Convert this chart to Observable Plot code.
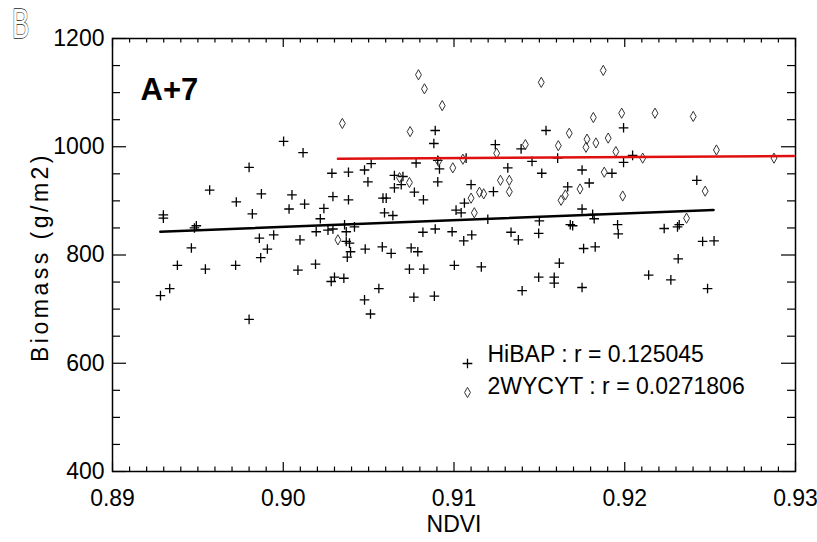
<!DOCTYPE html>
<html><head><meta charset="utf-8">
<script src="https://cdn.jsdelivr.net/npm/d3@7"></script>
<script src="https://cdn.jsdelivr.net/npm/@observablehq/plot@0.6"></script>
<style>
html,body{margin:0;padding:0;background:#fff;}
#wrap{position:relative;width:817px;height:542px;overflow:hidden;}
</style></head><body><div id="wrap"></div>
<script>
const hibapNdvi = [0.90002,0.90116,0.89800,0.90285,0.89569,0.89872,0.90051,0.90291,0.89725,0.90125,
0.90034,0.90238,0.89819,0.90217,0.89298,0.89298,0.89491,0.89480,0.89860,0.89944,
0.90098,0.90193,0.90262,0.90291,0.89462,0.89907,0.89868,0.89380,0.89544,0.89721,
0.90086,0.90189,0.89335,0.89281,0.89800,0.90281,0.90300,0.90890,0.90882,0.91242,
0.91539,0.91393,0.90905,0.90778,0.91071,0.91457,0.91607,0.90515,0.90476,0.90382,
0.90915,0.91315,0.91514,0.90651,0.90701,0.90496,0.90905,0.90651,0.90691,0.90768,
0.91100,0.91231,0.91666,0.90584,0.90603,0.90382,0.90821,0.91061,0.91012,0.91042,
0.90593,0.90642,0.91198,0.91500,0.90359,0.90417,0.90369,0.90369,0.90388,0.90394,
0.90375,0.90818,0.90890,0.90989,0.91057,0.91104,0.91334,0.91377,0.91496,0.90480,
0.90580,0.90632,0.90749,0.90788,0.90739,0.90823,0.91002,0.91160,0.91617,0.91496,
0.91587,0.91587,0.91399,0.90355,0.90560,0.90476,0.90511,0.90765,0.90885,0.91681,
0.91993,0.92046,0.91993,0.91750,0.91925,0.91792,0.92422,0.91750,0.91812,0.91821,
0.91695,0.91958,0.92231,0.92319,0.92309,0.91962,0.91759,0.91827,0.92456,0.92523,
0.92313,0.92140,0.92270,0.91750,0.92485];
const hibapBiomass = [1010,989,962,951,920,913,911,908,898,894,
885,886,876,867,874,868,854,850,831,837,
828,843,846,848,813,811,795,781,774,781,
772,783,738,725,681,751,759,1030,1006,1004,
1030,996,975,970,979,973,979,969,957,953,
959,961,951,947,945,935,935,924,930,916,
930,917,926,905,905,902,902,896,883,878,
878,873,866,863,856,852,843,825,822,806,
796,842,848,843,826,837,842,828,840,811,
815,803,813,806,774,774,781,778,785,759,
759,748,734,757,738,717,691,722,724,856,
1035,984,971,957,951,933,938,885,875,867,
854,856,849,856,852,839,812,815,825,826,
793,763,754,740,738];
const cytNdvi = [0.90792,0.90827,0.90931,0.90346,0.90743,0.91511,0.91675,0.91418,0.91611,0.91250,
0.91052,0.90909,0.90993,0.90681,0.90739,0.91272,0.91324,0.91324,0.91149,0.91174,
0.91100,0.91627,0.91652,0.91119,0.91874,0.91816,0.91982,0.92177,0.92401,0.91779,
0.91903,0.91773,0.91831,0.91948,0.92105,0.92537,0.92874,0.91880,0.91738,0.91988,
0.92471,0.92362,0.90320];
const cytBiomass = [1133,1107,1076,1043,1028,1119,1025,1004,1002,988,
977,973,961,943,934,938,938,917,916,913,
905,901,911,878,1141,1054,1062,1062,1056,1014,
1016,999,1007,991,979,994,979,953,922,909,
918,868,828];
const hibapFitNdvi = [0.8928, 0.9252];
const hibapFitBiomass = [843, 883];
const cytFitNdvi = [0.9032, 0.9299];
const cytFitBiomass = [978, 983];
const xTicks = [0.89, 0.90, 0.91, 0.92, 0.93];
const yTicks = [400, 600, 800, 1000, 1200];
const xLabel = "NDVI";
const yLabel = "Biomass (g/m2)";
const panelTitle = "A+7";
const panelLetter = "B";
const legendLabels = ["HiBAP : r = 0.125045", "2WYCYT : r = 0.0271806"];

const W = 817, H = 542, mL = 112, mR = 22, mT = 38, mB = 71;
const fw = W - mL - mR, fh = H - mT - mB;
const xMinor = d3.range(891, 930).filter(v => v % 10 !== 0).map(v => v / 1000);
const yMinor = d3.range(450, 1200, 50).filter(v => v % 200 !== 0);
const font = '"Liberation Sans Narrow","Liberation Sans","DejaVu Sans Condensed",sans-serif';

const hibap = hibapNdvi.map((x, i) => ({x, y: hibapBiomass[i]}));
const cyt = cytNdvi.map((x, i) => ({x, y: cytBiomass[i]}));
const hFit = hibapFitNdvi.map((x, i) => ({x, y: hibapFitBiomass[i]}));
const cFit = cytFitNdvi.map((x, i) => ({x, y: cytFitBiomass[i]}));

const tk = {stroke: "black", strokeWidth: 1.2};
const chart = Plot.plot({
  width: W, height: H,
  marginLeft: mL, marginRight: mR, marginTop: mT, marginBottom: mB,
  style: {fontFamily: font, fontStretch: "condensed", fontSize: "23px", background: "white", color: "black"},
  x: {domain: [0.89, 0.93]},
  y: {domain: [400, 1200]},
  marks: [
    Plot.axisX(xTicks, {tickSize: 0, tickPadding: 18, tickFormat: d3.format(".2f"), label: null, fontSize: 23}),
    Plot.axisY(yTicks, {tickSize: 0, tickPadding: 8, tickFormat: d3.format("d"), label: null, fontSize: 23}),
    Plot.tickX(xTicks, {x: d => d, insetTop: fh - 9, ...tk}),
    Plot.tickX(xTicks, {x: d => d, insetBottom: fh - 9, ...tk}),
    Plot.tickX(xMinor, {x: d => d, insetTop: fh - 4.5, ...tk}),
    Plot.tickX(xMinor, {x: d => d, insetBottom: fh - 4.5, ...tk}),
    Plot.tickY(yTicks, {y: d => d, insetRight: fw - 14, ...tk}),
    Plot.tickY(yTicks, {y: d => d, insetLeft: fw - 14, ...tk}),
    Plot.tickY(yMinor, {y: d => d, insetRight: fw - 8, ...tk}),
    Plot.tickY(yMinor, {y: d => d, insetLeft: fw - 8, ...tk}),
    Plot.frame({stroke: "black", strokeWidth: 1.5}),
    Plot.dot(hibap, {x: "x", y: "y", symbol: "plus", r: 3.2, fill: "none", stroke: "black", strokeWidth: 1.3}),
    Plot.dot(cyt, {x: "x", y: "y", symbol: "diamond", r: 3.1, fill: "none", stroke: "#333", strokeWidth: 1}),
    Plot.line(hFit, {x: "x", y: "y", stroke: "black", strokeWidth: 2.5}),
    Plot.line(cFit, {x: "x", y: "y", stroke: "#e01010", strokeWidth: 2.5}),
    Plot.text([panelTitle], {frameAnchor: "top-left", text: d => d, dx: 28, dy: 39, lineAnchor: "top", textAnchor: "start", fontWeight: "bold", fontSize: 31, fontFamily: '"Liberation Sans", Arial, sans-serif'}),
    Plot.text([panelLetter], {frameAnchor: "top-left", text: d => d, dx: -92, dy: -31, lineAnchor: "top", textAnchor: "middle", fontSize: 43, fill: "white", stroke: "#222", strokeWidth: 1.3}),
    Plot.text([xLabel], {frameAnchor: "bottom", text: d => d, dy: 53, lineAnchor: "middle"}),
    Plot.text([yLabel], {frameAnchor: "left", text: d => d, dx: -72, dy: 2, rotate: -90, lineAnchor: "middle", textAnchor: "middle"}),
    Plot.dot([0], {frameAnchor: "top-left", dx: 355, dy: 325, symbol: "plus", r: 3.2, fill: "none", stroke: "black", strokeWidth: 1.3}),
    Plot.dot([0], {frameAnchor: "top-left", dx: 355, dy: 354, symbol: "diamond", r: 3.1, fill: "none", stroke: "#333", strokeWidth: 1}),
    Plot.text([legendLabels[0]], {frameAnchor: "top-left", text: d => d, dx: 375, dy: 316, textAnchor: "start", lineAnchor: "middle"}),
    Plot.text([legendLabels[1]], {frameAnchor: "top-left", text: d => d, dx: 375, dy: 348, textAnchor: "start", lineAnchor: "middle"})
  ]
});
const sel = d3.select(chart);
sel.selectAll("text").filter(function() { return this.textContent === panelTitle; }).style("font-stretch", "normal");
sel.selectAll("text").filter(function() { return this.textContent === yLabel; }).style("letter-spacing", "3.5px");
sel.selectAll("text").filter(function() { return this.textContent === panelLetter; }).each(function() {
  const t = this.getAttribute("transform") || "";
  this.setAttribute("transform", t + " scale(0.6,1)");
});
document.getElementById("wrap").prepend(chart);
</script></body></html>
